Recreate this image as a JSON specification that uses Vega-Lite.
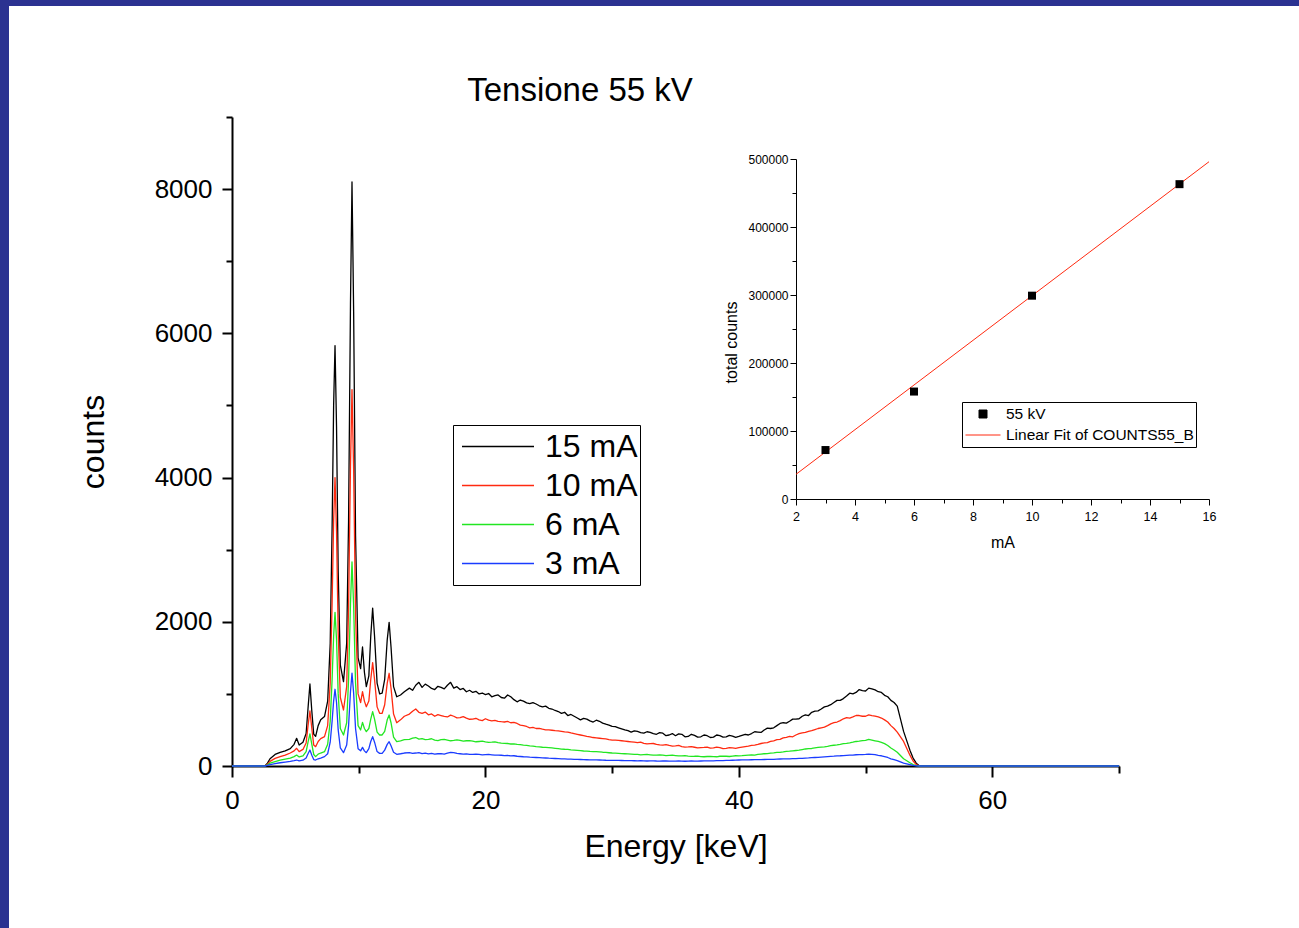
{
  "$schema": "https://vega.github.io/schema/vega-lite/v6.json",
  "width": 1290,
  "height": 922,
  "autosize": {"type": "none"},
  "padding": {"left": 9, "top": 6, "right": 0, "bottom": 0},
  "background": "#2b3291",
  "title": {"text": "Tensione 55 kV", "fontSize": 33, "fontWeight": "normal", "font": "Liberation Sans", "color": "black", "anchor": "middle", "frame": "group", "offset": 0, "dy": 128, "dx": -74, "baseline": "alphabetic"},
  "config": {
    "view": {"fill": "white", "stroke": null},
    "font": "Liberation Sans",
    "axis": {"grid": false, "labelColor": "black", "titleColor": "black", "domainColor": "black", "tickColor": "black", "titleFontWeight": "normal", "labelFlush": false, "labelOverlap": false, "labelFont": "Liberation Sans", "titleFont": "Liberation Sans"},
    "legend": {"labelFont": "Liberation Sans", "labelColor": "black"}
  },
  "layer": [
    {
      "data": {"values": [
        {"E": 0, "15 mA": 0, "10 mA": 0, "6 mA": 0, "3 mA": 0},
        {"E": 2.4, "15 mA": 0, "10 mA": 0, "6 mA": 0, "3 mA": 0},
        {"E": 2.6, "15 mA": 0, "10 mA": 0, "6 mA": 0, "3 mA": 0},
        {"E": 2.8, "15 mA": 40, "10 mA": 25, "6 mA": 15, "3 mA": 8},
        {"E": 3.0, "15 mA": 100, "10 mA": 65, "6 mA": 40, "3 mA": 20},
        {"E": 3.4, "15 mA": 160, "10 mA": 105, "6 mA": 60, "3 mA": 32},
        {"E": 3.8, "15 mA": 190, "10 mA": 130, "6 mA": 80, "3 mA": 45},
        {"E": 4.2, "15 mA": 210, "10 mA": 150, "6 mA": 95, "3 mA": 55},
        {"E": 4.6, "15 mA": 240, "10 mA": 180, "6 mA": 110, "3 mA": 65},
        {"E": 4.9, "15 mA": 300, "10 mA": 210, "6 mA": 130, "3 mA": 75},
        {"E": 5.1, "15 mA": 384, "10 mA": 245, "6 mA": 152, "3 mA": 83},
        {"E": 5.3, "15 mA": 290, "10 mA": 200, "6 mA": 125, "3 mA": 70},
        {"E": 5.6, "15 mA": 330, "10 mA": 230, "6 mA": 140, "3 mA": 80},
        {"E": 5.85, "15 mA": 450, "10 mA": 320, "6 mA": 200, "3 mA": 110},
        {"E": 6.0, "15 mA": 800, "10 mA": 560, "6 mA": 330, "3 mA": 170},
        {"E": 6.15, "15 mA": 1137, "10 mA": 763, "6 mA": 444, "3 mA": 222},
        {"E": 6.3, "15 mA": 760, "10 mA": 520, "6 mA": 300, "3 mA": 150},
        {"E": 6.45, "15 mA": 440, "10 mA": 290, "6 mA": 160, "3 mA": 90},
        {"E": 6.6, "15 mA": 410, "10 mA": 268, "6 mA": 130, "3 mA": 83},
        {"E": 6.8, "15 mA": 560, "10 mA": 340, "6 mA": 165, "3 mA": 100},
        {"E": 7.0, "15 mA": 640, "10 mA": 380, "6 mA": 180, "3 mA": 110},
        {"E": 7.3, "15 mA": 685, "10 mA": 407, "6 mA": 198, "3 mA": 130},
        {"E": 7.55, "15 mA": 900, "10 mA": 560, "6 mA": 300, "3 mA": 170},
        {"E": 7.75, "15 mA": 1700, "10 mA": 1150, "6 mA": 620, "3 mA": 330},
        {"E": 7.9, "15 mA": 3300, "10 mA": 2250, "6 mA": 1200, "3 mA": 620},
        {"E": 8.02, "15 mA": 5000, "10 mA": 3400, "6 mA": 1800, "3 mA": 900},
        {"E": 8.13, "15 mA": 5830, "10 mA": 4000, "6 mA": 2130, "3 mA": 1064},
        {"E": 8.25, "15 mA": 4700, "10 mA": 3250, "6 mA": 1750, "3 mA": 880},
        {"E": 8.38, "15 mA": 2700, "10 mA": 1850, "6 mA": 1000, "3 mA": 500},
        {"E": 8.55, "15 mA": 1400, "10 mA": 950, "6 mA": 520, "3 mA": 250},
        {"E": 8.8, "15 mA": 1170, "10 mA": 777, "6 mA": 430, "3 mA": 185},
        {"E": 9.05, "15 mA": 1700, "10 mA": 1100, "6 mA": 600, "3 mA": 290},
        {"E": 9.2, "15 mA": 3400, "10 mA": 2200, "6 mA": 1200, "3 mA": 560},
        {"E": 9.35, "15 mA": 6400, "10 mA": 4150, "6 mA": 2250, "3 mA": 1030},
        {"E": 9.47, "15 mA": 8100, "10 mA": 5220, "6 mA": 2830, "3 mA": 1286},
        {"E": 9.6, "15 mA": 6300, "10 mA": 4100, "6 mA": 2220, "3 mA": 1010},
        {"E": 9.75, "15 mA": 3200, "10 mA": 2100, "6 mA": 1150, "3 mA": 520},
        {"E": 9.95, "15 mA": 1500, "10 mA": 1000, "6 mA": 560, "3 mA": 240},
        {"E": 10.15, "15 mA": 1350, "10 mA": 880, "6 mA": 500, "3 mA": 210},
        {"E": 10.3, "15 mA": 1650, "10 mA": 1030, "6 mA": 605, "3 mA": 259},
        {"E": 10.45, "15 mA": 1300, "10 mA": 900, "6 mA": 520, "3 mA": 210},
        {"E": 10.6, "15 mA": 1100, "10 mA": 822, "6 mA": 476, "3 mA": 185},
        {"E": 10.8, "15 mA": 1250, "10 mA": 900, "6 mA": 520, "3 mA": 240},
        {"E": 10.95, "15 mA": 1800, "10 mA": 1200, "6 mA": 650, "3 mA": 340},
        {"E": 11.1, "15 mA": 2190, "10 mA": 1433, "6 mA": 753, "3 mA": 407},
        {"E": 11.25, "15 mA": 1800, "10 mA": 1200, "6 mA": 650, "3 mA": 330},
        {"E": 11.45, "15 mA": 1150, "10 mA": 820, "6 mA": 470, "3 mA": 200},
        {"E": 11.65, "15 mA": 1000, "10 mA": 730, "6 mA": 430, "3 mA": 175},
        {"E": 11.85, "15 mA": 1010, "10 mA": 731, "6 mA": 430, "3 mA": 176},
        {"E": 12.05, "15 mA": 1200, "10 mA": 850, "6 mA": 480, "3 mA": 220},
        {"E": 12.25, "15 mA": 1750, "10 mA": 1150, "6 mA": 640, "3 mA": 300},
        {"E": 12.4, "15 mA": 1993, "10 mA": 1286, "6 mA": 707, "3 mA": 337},
        {"E": 12.55, "15 mA": 1650, "10 mA": 1080, "6 mA": 600, "3 mA": 280},
        {"E": 12.75, "15 mA": 1100, "10 mA": 720, "6 mA": 400, "3 mA": 190},
        {"E": 13.0, "15 mA": 960, "10 mA": 600, "6 mA": 337, "3 mA": 162},
        {"E": 13.3, "15 mA": 985, "10 mA": 640, "6 mA": 350, "3 mA": 170},
        {"E": 13.6, "15 mA": 1030, "10 mA": 690, "6 mA": 365, "3 mA": 180},
        {"E": 14.0, "15 mA": 1080, "10 mA": 720, "6 mA": 370, "3 mA": 185},
        {"E": 14.25, "15 mA": 1050, "10 mA": 760, "6 mA": 385, "3 mA": 176},
        {"E": 14.5, "15 mA": 1120, "10 mA": 790, "6 mA": 395, "3 mA": 180},
        {"E": 14.75, "15 mA": 1160, "10 mA": 745, "6 mA": 372, "3 mA": 186},
        {"E": 15.0, "15 mA": 1090, "10 mA": 730, "6 mA": 380, "3 mA": 172},
        {"E": 15.25, "15 mA": 1135, "10 mA": 748, "6 mA": 366, "3 mA": 178},
        {"E": 15.5, "15 mA": 1110, "10 mA": 710, "6 mA": 370, "3 mA": 168},
        {"E": 15.75, "15 mA": 1075, "10 mA": 722, "6 mA": 378, "3 mA": 174},
        {"E": 16.0, "15 mA": 1060, "10 mA": 690, "6 mA": 360, "3 mA": 165},
        {"E": 16.25, "15 mA": 1105, "10 mA": 712, "6 mA": 352, "3 mA": 170},
        {"E": 16.5, "15 mA": 1090, "10 mA": 700, "6 mA": 365, "3 mA": 172},
        {"E": 16.75, "15 mA": 1070, "10 mA": 688, "6 mA": 370, "3 mA": 166},
        {"E": 17.0, "15 mA": 1120, "10 mA": 680, "6 mA": 360, "3 mA": 178},
        {"E": 17.25, "15 mA": 1160, "10 mA": 705, "6 mA": 350, "3 mA": 188},
        {"E": 17.5, "15 mA": 1080, "10 mA": 690, "6 mA": 355, "3 mA": 185},
        {"E": 17.75, "15 mA": 1100, "10 mA": 668, "6 mA": 362, "3 mA": 174},
        {"E": 18.0, "15 mA": 1060, "10 mA": 670, "6 mA": 355, "3 mA": 170},
        {"E": 18.25, "15 mA": 1075, "10 mA": 685, "6 mA": 345, "3 mA": 165},
        {"E": 18.5, "15 mA": 1030, "10 mA": 665, "6 mA": 350, "3 mA": 168},
        {"E": 18.75, "15 mA": 1050, "10 mA": 648, "6 mA": 352, "3 mA": 160},
        {"E": 19.0, "15 mA": 1020, "10 mA": 650, "6 mA": 345, "3 mA": 162},
        {"E": 19.25, "15 mA": 1035, "10 mA": 662, "6 mA": 336, "3 mA": 165},
        {"E": 19.5, "15 mA": 1000, "10 mA": 640, "6 mA": 340, "3 mA": 160},
        {"E": 19.75, "15 mA": 1012, "10 mA": 630, "6 mA": 344, "3 mA": 154},
        {"E": 20.0, "15 mA": 990, "10 mA": 655, "6 mA": 335, "3 mA": 158},
        {"E": 20.25, "15 mA": 1005, "10 mA": 635, "6 mA": 328, "3 mA": 160},
        {"E": 20.5, "15 mA": 960, "10 mA": 625, "6 mA": 330, "3 mA": 155},
        {"E": 20.75, "15 mA": 975, "10 mA": 632, "6 mA": 334, "3 mA": 150},
        {"E": 21.0, "15 mA": 985, "10 mA": 620, "6 mA": 325, "3 mA": 152},
        {"E": 21.25, "15 mA": 950, "10 mA": 614, "6 mA": 318, "3 mA": 149},
        {"E": 21.5, "15 mA": 940, "10 mA": 610, "6 mA": 315, "3 mA": 145},
        {"E": 21.75, "15 mA": 985, "10 mA": 618, "6 mA": 312, "3 mA": 146},
        {"E": 22.0, "15 mA": 960, "10 mA": 600, "6 mA": 305, "3 mA": 140},
        {"E": 22.25, "15 mA": 920, "10 mA": 604, "6 mA": 308, "3 mA": 142},
        {"E": 22.5, "15 mA": 890, "10 mA": 590, "6 mA": 300, "3 mA": 135},
        {"E": 22.75, "15 mA": 915, "10 mA": 566, "6 mA": 295, "3 mA": 132},
        {"E": 23.0, "15 mA": 900, "10 mA": 560, "6 mA": 290, "3 mA": 128},
        {"E": 23.25, "15 mA": 875, "10 mA": 548, "6 mA": 286, "3 mA": 126},
        {"E": 23.5, "15 mA": 865, "10 mA": 530, "6 mA": 280, "3 mA": 122},
        {"E": 23.75, "15 mA": 880, "10 mA": 536, "6 mA": 276, "3 mA": 121},
        {"E": 24.0, "15 mA": 860, "10 mA": 520, "6 mA": 270, "3 mA": 118},
        {"E": 24.25, "15 mA": 835, "10 mA": 522, "6 mA": 266, "3 mA": 115},
        {"E": 24.5, "15 mA": 820, "10 mA": 510, "6 mA": 260, "3 mA": 112},
        {"E": 24.75, "15 mA": 830, "10 mA": 502, "6 mA": 258, "3 mA": 111},
        {"E": 25.0, "15 mA": 800, "10 mA": 500, "6 mA": 255, "3 mA": 108},
        {"E": 25.25, "15 mA": 790, "10 mA": 496, "6 mA": 250, "3 mA": 106},
        {"E": 25.5, "15 mA": 770, "10 mA": 490, "6 mA": 245, "3 mA": 104},
        {"E": 25.75, "15 mA": 755, "10 mA": 486, "6 mA": 240, "3 mA": 102},
        {"E": 26.0, "15 mA": 730, "10 mA": 480, "6 mA": 235, "3 mA": 100},
        {"E": 26.25, "15 mA": 745, "10 mA": 472, "6 mA": 232, "3 mA": 98},
        {"E": 26.5, "15 mA": 700, "10 mA": 470, "6 mA": 230, "3 mA": 96},
        {"E": 26.75, "15 mA": 715, "10 mA": 458, "6 mA": 224, "3 mA": 94},
        {"E": 27.0, "15 mA": 690, "10 mA": 450, "6 mA": 220, "3 mA": 92},
        {"E": 27.25, "15 mA": 665, "10 mA": 440, "6 mA": 216, "3 mA": 91},
        {"E": 27.5, "15 mA": 640, "10 mA": 430, "6 mA": 212, "3 mA": 90},
        {"E": 27.75, "15 mA": 660, "10 mA": 420, "6 mA": 208, "3 mA": 88},
        {"E": 28.0, "15 mA": 650, "10 mA": 410, "6 mA": 205, "3 mA": 87},
        {"E": 28.25, "15 mA": 625, "10 mA": 404, "6 mA": 202, "3 mA": 86},
        {"E": 28.5, "15 mA": 610, "10 mA": 395, "6 mA": 200, "3 mA": 85},
        {"E": 28.75, "15 mA": 635, "10 mA": 390, "6 mA": 198, "3 mA": 84},
        {"E": 29.0, "15 mA": 620, "10 mA": 385, "6 mA": 195, "3 mA": 83},
        {"E": 29.25, "15 mA": 595, "10 mA": 380, "6 mA": 191, "3 mA": 82},
        {"E": 29.5, "15 mA": 580, "10 mA": 375, "6 mA": 188, "3 mA": 80},
        {"E": 29.75, "15 mA": 568, "10 mA": 366, "6 mA": 184, "3 mA": 79},
        {"E": 30.0, "15 mA": 550, "10 mA": 360, "6 mA": 180, "3 mA": 78},
        {"E": 30.25, "15 mA": 545, "10 mA": 358, "6 mA": 178, "3 mA": 77},
        {"E": 30.5, "15 mA": 530, "10 mA": 355, "6 mA": 175, "3 mA": 77},
        {"E": 30.75, "15 mA": 515, "10 mA": 350, "6 mA": 172, "3 mA": 76},
        {"E": 31.0, "15 mA": 500, "10 mA": 345, "6 mA": 170, "3 mA": 75},
        {"E": 31.25, "15 mA": 490, "10 mA": 340, "6 mA": 168, "3 mA": 74},
        {"E": 31.5, "15 mA": 470, "10 mA": 335, "6 mA": 165, "3 mA": 74},
        {"E": 31.75, "15 mA": 488, "10 mA": 330, "6 mA": 162, "3 mA": 73},
        {"E": 32.0, "15 mA": 480, "10 mA": 325, "6 mA": 160, "3 mA": 72},
        {"E": 32.25, "15 mA": 462, "10 mA": 330, "6 mA": 155, "3 mA": 73},
        {"E": 32.5, "15 mA": 455, "10 mA": 315, "6 mA": 158, "3 mA": 71},
        {"E": 32.75, "15 mA": 475, "10 mA": 306, "6 mA": 160, "3 mA": 69},
        {"E": 33.0, "15 mA": 465, "10 mA": 310, "6 mA": 155, "3 mA": 70},
        {"E": 33.25, "15 mA": 448, "10 mA": 312, "6 mA": 150, "3 mA": 71},
        {"E": 33.5, "15 mA": 440, "10 mA": 300, "6 mA": 152, "3 mA": 69},
        {"E": 33.75, "15 mA": 462, "10 mA": 292, "6 mA": 154, "3 mA": 68},
        {"E": 34.0, "15 mA": 455, "10 mA": 290, "6 mA": 150, "3 mA": 69},
        {"E": 34.25, "15 mA": 420, "10 mA": 296, "6 mA": 145, "3 mA": 70},
        {"E": 34.5, "15 mA": 430, "10 mA": 285, "6 mA": 148, "3 mA": 68},
        {"E": 34.75, "15 mA": 450, "10 mA": 276, "6 mA": 150, "3 mA": 67},
        {"E": 35.0, "15 mA": 420, "10 mA": 280, "6 mA": 145, "3 mA": 68},
        {"E": 35.25, "15 mA": 445, "10 mA": 285, "6 mA": 140, "3 mA": 69},
        {"E": 35.5, "15 mA": 440, "10 mA": 270, "6 mA": 140, "3 mA": 68},
        {"E": 35.75, "15 mA": 405, "10 mA": 262, "6 mA": 144, "3 mA": 66},
        {"E": 36.0, "15 mA": 410, "10 mA": 265, "6 mA": 138, "3 mA": 67},
        {"E": 36.25, "15 mA": 440, "10 mA": 270, "6 mA": 133, "3 mA": 69},
        {"E": 36.5, "15 mA": 425, "10 mA": 260, "6 mA": 135, "3 mA": 68},
        {"E": 36.75, "15 mA": 400, "10 mA": 250, "6 mA": 138, "3 mA": 67},
        {"E": 37.0, "15 mA": 405, "10 mA": 255, "6 mA": 130, "3 mA": 69},
        {"E": 37.25, "15 mA": 430, "10 mA": 258, "6 mA": 128, "3 mA": 71},
        {"E": 37.5, "15 mA": 420, "10 mA": 262, "6 mA": 132, "3 mA": 70},
        {"E": 37.75, "15 mA": 395, "10 mA": 248, "6 mA": 134, "3 mA": 70},
        {"E": 38.0, "15 mA": 400, "10 mA": 250, "6 mA": 130, "3 mA": 72},
        {"E": 38.25, "15 mA": 430, "10 mA": 262, "6 mA": 128, "3 mA": 74},
        {"E": 38.5, "15 mA": 420, "10 mA": 255, "6 mA": 135, "3 mA": 75},
        {"E": 38.75, "15 mA": 400, "10 mA": 240, "6 mA": 138, "3 mA": 74},
        {"E": 39.0, "15 mA": 405, "10 mA": 245, "6 mA": 135, "3 mA": 78},
        {"E": 39.25, "15 mA": 425, "10 mA": 255, "6 mA": 132, "3 mA": 79},
        {"E": 39.5, "15 mA": 415, "10 mA": 250, "6 mA": 138, "3 mA": 80},
        {"E": 39.75, "15 mA": 398, "10 mA": 245, "6 mA": 142, "3 mA": 81},
        {"E": 40.0, "15 mA": 410, "10 mA": 255, "6 mA": 140, "3 mA": 83},
        {"E": 40.25, "15 mA": 425, "10 mA": 262, "6 mA": 143, "3 mA": 84},
        {"E": 40.5, "15 mA": 440, "10 mA": 270, "6 mA": 148, "3 mA": 85},
        {"E": 40.75, "15 mA": 430, "10 mA": 275, "6 mA": 152, "3 mA": 86},
        {"E": 41.0, "15 mA": 450, "10 mA": 285, "6 mA": 155, "3 mA": 87},
        {"E": 41.25, "15 mA": 475, "10 mA": 290, "6 mA": 150, "3 mA": 88},
        {"E": 41.5, "15 mA": 470, "10 mA": 300, "6 mA": 160, "3 mA": 89},
        {"E": 41.75, "15 mA": 465, "10 mA": 312, "6 mA": 166, "3 mA": 88},
        {"E": 42.0, "15 mA": 500, "10 mA": 320, "6 mA": 170, "3 mA": 90},
        {"E": 42.25, "15 mA": 525, "10 mA": 325, "6 mA": 172, "3 mA": 92},
        {"E": 42.5, "15 mA": 520, "10 mA": 340, "6 mA": 178, "3 mA": 92},
        {"E": 42.75, "15 mA": 530, "10 mA": 350, "6 mA": 182, "3 mA": 93},
        {"E": 43.0, "15 mA": 560, "10 mA": 365, "6 mA": 188, "3 mA": 95},
        {"E": 43.25, "15 mA": 590, "10 mA": 370, "6 mA": 190, "3 mA": 97},
        {"E": 43.5, "15 mA": 600, "10 mA": 390, "6 mA": 195, "3 mA": 98},
        {"E": 43.75, "15 mA": 595, "10 mA": 398, "6 mA": 202, "3 mA": 99},
        {"E": 44.0, "15 mA": 620, "10 mA": 410, "6 mA": 205, "3 mA": 100},
        {"E": 44.25, "15 mA": 650, "10 mA": 405, "6 mA": 210, "3 mA": 102},
        {"E": 44.5, "15 mA": 650, "10 mA": 430, "6 mA": 215, "3 mA": 103},
        {"E": 44.75, "15 mA": 655, "10 mA": 448, "6 mA": 220, "3 mA": 105},
        {"E": 45.0, "15 mA": 690, "10 mA": 460, "6 mA": 228, "3 mA": 106},
        {"E": 45.25, "15 mA": 710, "10 mA": 465, "6 mA": 236, "3 mA": 110},
        {"E": 45.5, "15 mA": 700, "10 mA": 480, "6 mA": 240, "3 mA": 112},
        {"E": 45.75, "15 mA": 745, "10 mA": 490, "6 mA": 243, "3 mA": 115},
        {"E": 46.0, "15 mA": 760, "10 mA": 505, "6 mA": 250, "3 mA": 118},
        {"E": 46.25, "15 mA": 765, "10 mA": 520, "6 mA": 258, "3 mA": 121},
        {"E": 46.5, "15 mA": 790, "10 mA": 530, "6 mA": 262, "3 mA": 124},
        {"E": 46.75, "15 mA": 820, "10 mA": 540, "6 mA": 266, "3 mA": 127},
        {"E": 47.0, "15 mA": 830, "10 mA": 560, "6 mA": 272, "3 mA": 130},
        {"E": 47.25, "15 mA": 850, "10 mA": 585, "6 mA": 282, "3 mA": 133},
        {"E": 47.5, "15 mA": 880, "10 mA": 600, "6 mA": 288, "3 mA": 136},
        {"E": 47.75, "15 mA": 910, "10 mA": 610, "6 mA": 292, "3 mA": 140},
        {"E": 48.0, "15 mA": 910, "10 mA": 630, "6 mA": 300, "3 mA": 142},
        {"E": 48.25, "15 mA": 935, "10 mA": 655, "6 mA": 310, "3 mA": 145},
        {"E": 48.5, "15 mA": 970, "10 mA": 670, "6 mA": 315, "3 mA": 148},
        {"E": 48.75, "15 mA": 1010, "10 mA": 665, "6 mA": 322, "3 mA": 151},
        {"E": 49.0, "15 mA": 1000, "10 mA": 680, "6 mA": 330, "3 mA": 152},
        {"E": 49.25, "15 mA": 1020, "10 mA": 700, "6 mA": 340, "3 mA": 156},
        {"E": 49.5, "15 mA": 1060, "10 mA": 700, "6 mA": 345, "3 mA": 158},
        {"E": 49.75, "15 mA": 1045, "10 mA": 690, "6 mA": 352, "3 mA": 159},
        {"E": 50.0, "15 mA": 1040, "10 mA": 690, "6 mA": 355, "3 mA": 160},
        {"E": 50.25, "15 mA": 1080, "10 mA": 710, "6 mA": 368, "3 mA": 164},
        {"E": 50.5, "15 mA": 1070, "10 mA": 700, "6 mA": 360, "3 mA": 162},
        {"E": 50.75, "15 mA": 1055, "10 mA": 692, "6 mA": 350, "3 mA": 158},
        {"E": 51.0, "15 mA": 1030, "10 mA": 680, "6 mA": 340, "3 mA": 148},
        {"E": 51.25, "15 mA": 1020, "10 mA": 665, "6 mA": 328, "3 mA": 142},
        {"E": 51.5, "15 mA": 980, "10 mA": 640, "6 mA": 310, "3 mA": 130},
        {"E": 51.75, "15 mA": 960, "10 mA": 610, "6 mA": 285, "3 mA": 118},
        {"E": 52.0, "15 mA": 910, "10 mA": 560, "6 mA": 250, "3 mA": 100},
        {"E": 52.25, "15 mA": 880, "10 mA": 520, "6 mA": 222, "3 mA": 88},
        {"E": 52.5, "15 mA": 830, "10 mA": 470, "6 mA": 190, "3 mA": 75},
        {"E": 53.0, "15 mA": 480, "10 mA": 340, "6 mA": 100, "3 mA": 40},
        {"E": 53.5, "15 mA": 220, "10 mA": 150, "6 mA": 45, "3 mA": 18},
        {"E": 53.75, "15 mA": 110, "10 mA": 70, "6 mA": 20, "3 mA": 8},
        {"E": 54.0, "15 mA": 40, "10 mA": 20, "6 mA": 5, "3 mA": 2},
        {"E": 54.25, "15 mA": 0, "10 mA": 0, "6 mA": 0, "3 mA": 0},
        {"E": 55, "15 mA": 0, "10 mA": 0, "6 mA": 0, "3 mA": 0},
        {"E": 60, "15 mA": 0, "10 mA": 0, "6 mA": 0, "3 mA": 0},
        {"E": 65, "15 mA": 0, "10 mA": 0, "6 mA": 0, "3 mA": 0},
        {"E": 70, "15 mA": 0, "10 mA": 0, "6 mA": 0, "3 mA": 0}
      ]},
      "transform": [{"fold": ["15 mA", "10 mA", "6 mA", "3 mA"], "as": ["current", "counts"]}],
      "mark": {"type": "line", "strokeWidth": 1.3, "strokeJoin": "round"},
      "encoding": {
        "x": {"field": "E", "type": "quantitative",
          "scale": {"domain": [0, 70], "range": [223, 1110], "nice": false, "zero": false},
          "axis": {"orient": "bottom", "offset": -162, "values": [0, 10, 20, 30, 40, 50, 60, 70],
            "labelExpr": "datum.value % 20 === 0 ? datum.label : ''",
            "tickSize": {"condition": {"test": "datum.value % 20 === 0", "value": 11}, "value": 7},
            "tickWidth": 2, "domainWidth": 2, "labelFontSize": 26, "labelPadding": 10,
            "title": "Energy [keV]", "titleFontSize": 32, "titlePadding": 18}},
        "y": {"field": "counts", "type": "quantitative",
          "scale": {"domain": [0, 9000], "range": [760, 111], "nice": false},
          "axis": {"orient": "left", "offset": -223, "values": [0, 1000, 2000, 3000, 4000, 5000, 6000, 7000, 8000, 9000],
            "format": "d",
            "labelExpr": "datum.value % 2000 === 0 && datum.value <= 8000 ? datum.label : ''",
            "tickSize": {"condition": {"test": "datum.value % 2000 === 0", "value": 10}, "value": 6},
            "tickWidth": 2, "domainWidth": 2, "labelFontSize": 26, "labelPadding": 10,
            "title": "counts", "titleFontSize": 32, "titlePadding": 44}},
        "color": {"field": "current", "type": "nominal",
          "scale": {"domain": ["15 mA", "10 mA", "6 mA", "3 mA"], "range": ["#000000", "#ff2a10", "#22e622", "#1a3cff"]},
          "legend": {"orient": "none", "legendX": 444, "legendY": 419, "title": null,
            "symbolType": "stroke", "symbolSize": 5184, "symbolStrokeWidth": 1.3,
            "labelFontSize": 32, "labelOffset": 10, "padding": 2, "symbolOffset": 6,
            "clipHeight": 39, "rowPadding": 0, "strokeColor": "black", "fillColor": "white"}}
      }
    },
    {
      "layer": [
        {
          "data": {"values": [
            {"mA": 2, "total": 36300, "kind": "Linear Fit of COUNTS55_B"},
            {"mA": 16, "total": 496000, "kind": "Linear Fit of COUNTS55_B"}
          ]},
          "mark": {"type": "line", "strokeWidth": 1},
          "encoding": {
            "x": {"field": "mA", "type": "quantitative",
              "scale": {"domain": [2, 16], "range": [787, 1200], "nice": false, "zero": false},
              "axis": {"orient": "bottom", "offset": -429, "values": [2, 3, 4, 5, 6, 7, 8, 9, 10, 11, 12, 13, 14, 15, 16],
                "format": "d",
                "labelExpr": "datum.value % 2 === 0 ? datum.label : ''",
                "tickSize": {"condition": {"test": "datum.value % 2 === 0", "value": 6}, "value": 4},
                "tickWidth": 1, "domainWidth": 1, "labelFontSize": 12.5, "labelPadding": 5,
                "title": "mA", "titleFontSize": 16, "titlePadding": 12}},
            "y": {"field": "total", "type": "quantitative",
              "scale": {"domain": [0, 500000], "range": [493, 153], "nice": false},
              "axis": {"orient": "left", "offset": -787, "values": [0, 50000, 100000, 150000, 200000, 250000, 300000, 350000, 400000, 450000, 500000],
                "format": "d",
                "labelExpr": "datum.value % 100000 === 0 ? datum.label : ''",
                "tickSize": {"condition": {"test": "datum.value % 100000 === 0", "value": 6}, "value": 4},
                "tickWidth": 1, "domainWidth": 1, "labelFontSize": 12, "labelPadding": 2,
                "title": "total counts", "titleFontSize": 16, "titlePadding": 8, "titleY": 336}},
            "color": {"field": "kind", "type": "nominal",
              "scale": {"domain": ["55 kV", "Linear Fit of COUNTS55_B"], "range": ["#000000", "#ff2a10"]},
              "legend": {"orient": "none", "legendX": 953, "legendY": 396, "title": null,
                "labelFontSize": 15.5, "labelOffset": 5, "padding": 2, "symbolOffset": 1,
                "labelLimit": 400,
                "symbolSize": 1225, "clipHeight": 20, "rowPadding": 1,
                "strokeColor": "black", "fillColor": "white",
                "encode": {"symbols": {"update": {
                  "shape": {"signal": "datum.value === '55 kV' ? 'square' : 'stroke'"},
                  "size": {"signal": "datum.value === '55 kV' ? 64 : 1225"},
                  "fill": {"signal": "datum.value === '55 kV' ? '#000000' : 'transparent'"},
                  "stroke": {"signal": "datum.value === '55 kV' ? '#000000' : '#ff2a10'"},
                  "strokeWidth": {"value": 1}
                }}}}}
          }
        },
        {
          "data": {"values": [
            {"mA": 3, "total": 72000, "kind": "55 kV"},
            {"mA": 6, "total": 158000, "kind": "55 kV"},
            {"mA": 10, "total": 299000, "kind": "55 kV"},
            {"mA": 15, "total": 463000, "kind": "55 kV"}
          ]},
          "mark": {"type": "point", "shape": "square", "filled": true, "size": 64, "opacity": 1},
          "encoding": {
            "x": {"field": "mA", "type": "quantitative",
              "scale": {"domain": [2, 16], "range": [787, 1200], "nice": false, "zero": false}},
            "y": {"field": "total", "type": "quantitative",
              "scale": {"domain": [0, 500000], "range": [493, 153], "nice": false}},
            "color": {"field": "kind", "type": "nominal",
              "scale": {"domain": ["55 kV", "Linear Fit of COUNTS55_B"], "range": ["#000000", "#ff2a10"]}}
          }
        }
      ]
    }
  ],
  "resolve": {
    "scale": {"x": "independent", "y": "independent", "color": "independent"},
    "axis": {"x": "independent", "y": "independent"},
    "legend": {"color": "independent"}
  }
}
